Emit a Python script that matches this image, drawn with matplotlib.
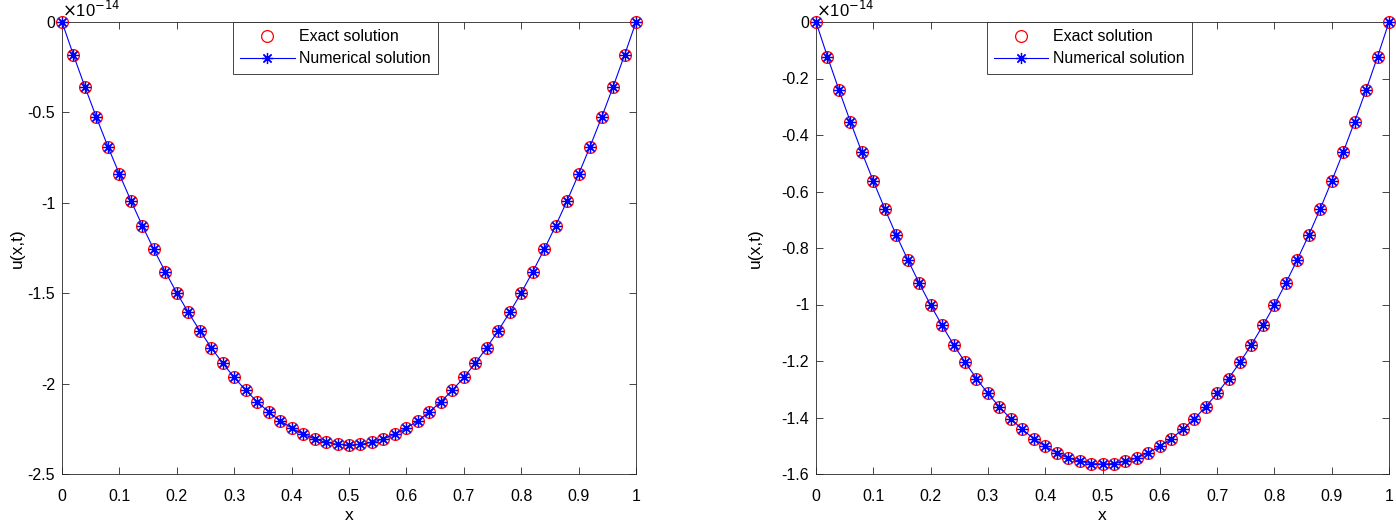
import matplotlib.pyplot as plt
import numpy as np

plt.rcParams['font.family'] = ['Liberation Sans', 'DejaVu Sans']
plt.rcParams['font.size'] = 11.5

x = [round(0.02 * i, 2) for i in range(51)]

# values, in units of 1e-14
left_exact = [0, -0.183, -0.359, -0.528, -0.689, -0.842, -0.988, -1.127, -1.258, -1.382,
              -1.498, -1.606, -1.707, -1.801, -1.887, -1.966, -2.037, -2.100, -2.157, -2.205,
              -2.246, -2.280, -2.306, -2.325, -2.336, -2.340, -2.336, -2.325, -2.306, -2.280,
              -2.246, -2.205, -2.157, -2.100, -2.037, -1.966, -1.887, -1.801, -1.707, -1.606,
              -1.498, -1.382, -1.258, -1.127, -0.988, -0.842, -0.689, -0.528, -0.359, -0.183, 0]
left_num = [0, -0.183, -0.359, -0.528, -0.689, -0.842, -0.988, -1.127, -1.258, -1.382,
            -1.498, -1.606, -1.707, -1.801, -1.887, -1.966, -2.037, -2.100, -2.157, -2.205,
            -2.246, -2.280, -2.306, -2.325, -2.336, -2.340, -2.336, -2.325, -2.306, -2.280,
            -2.246, -2.205, -2.157, -2.100, -2.037, -1.966, -1.887, -1.801, -1.707, -1.606,
            -1.498, -1.382, -1.258, -1.127, -0.988, -0.842, -0.689, -0.528, -0.359, -0.183, 0]
right_exact = [0, -0.123, -0.240, -0.353, -0.461, -0.563, -0.661, -0.754, -0.841, -0.924,
               -1.002, -1.074, -1.142, -1.204, -1.262, -1.315, -1.362, -1.405, -1.442, -1.475,
               -1.502, -1.525, -1.543, -1.555, -1.563, -1.565, -1.563, -1.555, -1.543, -1.525,
               -1.502, -1.475, -1.442, -1.405, -1.362, -1.315, -1.262, -1.204, -1.142, -1.074,
               -1.002, -0.924, -0.841, -0.754, -0.661, -0.563, -0.461, -0.353, -0.240, -0.123, 0]
right_num = [0, -0.123, -0.240, -0.353, -0.461, -0.563, -0.661, -0.754, -0.841, -0.924,
             -1.002, -1.074, -1.142, -1.204, -1.262, -1.315, -1.362, -1.405, -1.442, -1.475,
             -1.502, -1.525, -1.543, -1.555, -1.563, -1.565, -1.563, -1.555, -1.543, -1.525,
             -1.502, -1.475, -1.442, -1.405, -1.362, -1.315, -1.262, -1.204, -1.142, -1.074,
             -1.002, -0.924, -0.841, -0.754, -0.661, -0.563, -0.461, -0.353, -0.240, -0.123, 0]

xticks = [0, 0.1, 0.2, 0.3, 0.4, 0.5, 0.6, 0.7, 0.8, 0.9, 1]
xticklabels = ['0', '0.1', '0.2', '0.3', '0.4', '0.5', '0.6', '0.7', '0.8', '0.9', '1']
left_yticks = [0, -0.5, -1, -1.5, -2, -2.5]
left_yticklabels = ['0', '-0.5', '-1', '-1.5', '-2', '-2.5']
right_yticks = [0, -0.2, -0.4, -0.6, -0.8, -1, -1.2, -1.4, -1.6]
right_yticklabels = ['0', '-0.2', '-0.4', '-0.6', '-0.8', '-1', '-1.2', '-1.4', '-1.6']

fig = plt.figure(figsize=(13.96, 5.26), dpi=100)
ax1 = fig.add_axes([62 / 1396, 52 / 526, 574 / 1396, 452 / 526])
ax2 = fig.add_axes([816 / 1396, 52 / 526, 573 / 1396, 452 / 526])

axcol = '#262626'
panels = [(ax1, left_exact, left_num, left_yticks, left_yticklabels, (-2.5, 0), -0.064),
          (ax2, right_exact, right_num, right_yticks, right_yticklabels, (-1.6, 0), -0.092)]
for ax, ye, yn, yt, ytl, ylim, ylx in panels:
    ax.plot(x, ye, 'o', color='red', markerfacecolor='none', markersize=8.5,
            markeredgewidth=0.9, label='Exact solution', clip_on=False, zorder=3)
    ax.plot(x, yn, color='blue', marker=(8, 2, 0), markersize=8, markeredgewidth=0.9,
            linewidth=0.8, label='Numerical solution', clip_on=False, zorder=4)
    ax.set_xlim(0, 1)
    ax.set_ylim(*ylim)
    ax.set_xticks(xticks)
    ax.set_xticklabels(xticklabels)
    ax.set_yticks(yt)
    ax.set_yticklabels(ytl)
    ax.tick_params(direction='in', top=True, right=True, length=5, width=0.6,
                   colors=axcol, labelcolor='black', labelsize=11.5)
    ax.tick_params(axis='x', pad=11)
    ax.tick_params(axis='y', pad=5)
    for s in ax.spines.values():
        s.set_color(axcol)
        s.set_linewidth(0.6)
    ax.set_xlabel('x', fontsize=12.5, labelpad=3)
    ax.set_ylabel('u(x,t)', fontsize=12.5)
    ax.yaxis.set_label_coords(ylx, 0.5)
    ax.text(0.0, 1.005, r'$\times$10$^{-14}$', transform=ax.transAxes, fontsize=12,
            ha='left', va='bottom')
    leg = ax.legend(loc='upper left', bbox_to_anchor=(0.298, 1.0), borderaxespad=0,
                    fancybox=False, framealpha=1, edgecolor=axcol, fontsize=11.5,
                    handlelength=3.4, handletextpad=0.3, borderpad=0.45, labelspacing=0.45)
    leg.get_frame().set_linewidth(0.6)

fig.savefig('out.png', dpi=100)
